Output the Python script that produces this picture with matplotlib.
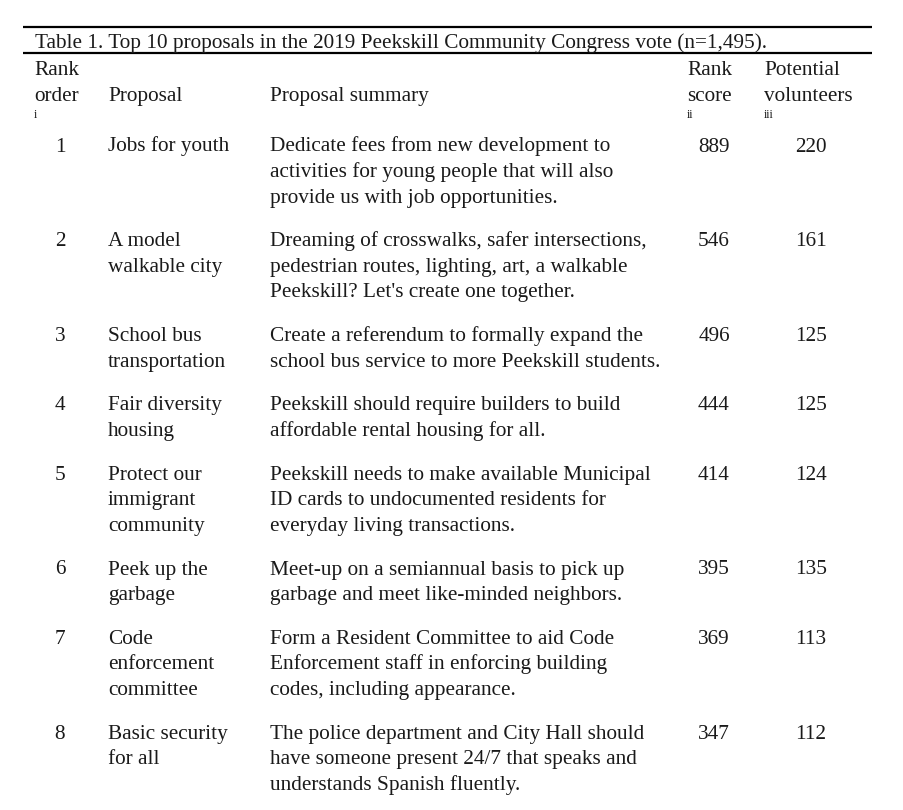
import matplotlib
matplotlib.use("Agg")
import matplotlib.pyplot as plt

# ---------------- data ----------------
title = "Table 1. Top 10 proposals in the 2019 Peekskill Community Congress vote (n=1,495)."
headers = [["Rank", "order"], ["Proposal"], ["Proposal summary"], ["Rank", "score"], ["Potential", "volunteers"]]
header_notes = ["i", "", "", "ii", "iii"]

rank_order = [1, 2, 3, 4, 5, 6, 7, 8]
proposals = [
    ["Jobs for youth"],
    ["A model", "walkable city"],
    ["School bus", "transportation"],
    ["Fair diversity", "housing"],
    ["Protect our", "immigrant", "community"],
    ["Peek up the", "garbage"],
    ["Code", "enforcement", "committee"],
    ["Basic security", "for all"],
]
summaries = [
    ["Dedicate fees from new development to", "activities for young people that will also", "provide us with job opportunities."],
    ["Dreaming of crosswalks, safer intersections,", "pedestrian routes, lighting, art, a walkable", "Peekskill? Let's create one together."],
    ["Create a referendum to formally expand the", "school bus service to more Peekskill students."],
    ["Peekskill should require builders to build", "affordable rental housing for all."],
    ["Peekskill needs to make available Municipal", "ID cards to undocumented residents for", "everyday living transactions."],
    ["Meet-up on a semiannual basis to pick up", "garbage and meet like-minded neighbors."],
    ["Form a Resident Committee to aid Code", "Enforcement staff in enforcing building", "codes, including appearance."],
    ["The police department and City Hall should", "have someone present 24/7 that speaks and", "understands Spanish fluently."],
]
rank_score = [889, 546, 496, 444, 414, 395, 369, 347]
volunteers = [220, 161, 125, 125, 124, 135, 113, 112]

# ---------------- layout ----------------
W, H = 904, 810
fig = plt.figure(figsize=(W / 100, H / 100), dpi=100)
ax = fig.add_axes([0, 0, 1, 1])
ax.set_xlim(0, W)
ax.set_ylim(H, 0)
ax.axis("off")

FONT = ["Liberation Serif", "DejaVu Serif"]
FS = 15.3
SMALL = 8.5
COLOR = "#1a1a1a"
LINE_H = 25.5
GAP = 18.3

def txt(x, y, s, ha="left", size=FS):
    ax.text(x, y, s, ha=ha, va="baseline", fontsize=size, family=FONT, color=COLOR)

# rules
ax.plot([23, 872], [27, 27], color="black", lw=1.6, solid_capstyle="butt")
ax.plot([23, 872], [53, 53], color="black", lw=1.6, solid_capstyle="butt")

txt(35, 48, title)

# headers
head_x = [34, 108, 270, 687, 764]
for x, lines, note in zip(head_x, headers, header_notes):
    if len(lines) == 2:
        txt(x, 75, lines[0])
        txt(x, 101, lines[1])
    else:
        txt(x, 101, lines[0])
    if note:
        txt(x, 117.5, note, size=SMALL)

# body
y = 151.5
for r in range(len(rank_order)):
    txt(60, y, str(rank_order[r]), ha="center")
    for i, line in enumerate(proposals[r]):
        txt(108, y + i * LINE_H, line)
    for i, line in enumerate(summaries[r]):
        txt(270, y + i * LINE_H, line)
    txt(714, y, str(rank_score[r]), ha="center")
    txt(811, y, str(volunteers[r]), ha="center")
    n = max(len(proposals[r]), len(summaries[r]))
    y += n * LINE_H + GAP

fig.savefig("out.png", dpi=100, facecolor="white")
